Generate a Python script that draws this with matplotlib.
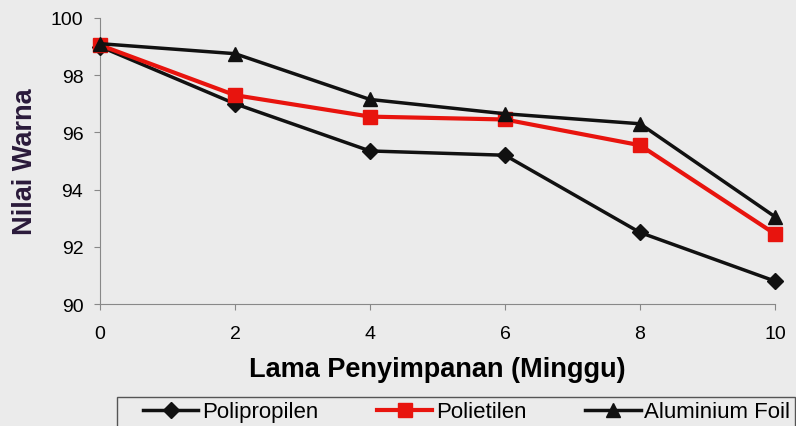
import matplotlib
matplotlib.use("Agg")
import matplotlib.pyplot as plt
from matplotlib.patches import Rectangle

plt.rcParams['font.family'] = ['Liberation Sans', 'DejaVu Sans']

# data
minggu = [0, 2, 4, 6, 8, 10]
polipropilen = [99.0, 97.0, 95.35, 95.2, 92.5, 90.8]
polietilen = [99.05, 97.3, 96.55, 96.45, 95.55, 92.45]
aluminium = [99.1, 98.75, 97.15, 96.65, 96.3, 93.05]
yticks = [90, 92, 94, 96, 98, 100]

bg = '#ebebeb'
fig = plt.figure(figsize=(7.96, 4.27), dpi=100, facecolor=bg)
ax = fig.add_axes([0.1256, 0.2857, 0.848, 0.67])
ax.set_facecolor(bg)

ax.plot(minggu, polipropilen, color='#111111', lw=2.5, marker='D', ms=8,
        label='Polipropilen', zorder=3)
ax.plot(minggu, polietilen, color='#e8140e', lw=3, marker='s', ms=10,
        label='Polietilen', zorder=3)
ax.plot(minggu, aluminium, color='#111111', lw=2.5, marker='^', ms=10,
        label='Aluminium Foil', zorder=4)

ax.set_xlim(0, 10)
ax.set_ylim(90, 100)
ax.set_xticks(minggu)
ax.set_yticks(yticks)
ax.tick_params(labelsize=14, length=4, color='#888888')
ax.tick_params(axis='x', pad=11)
ax.tick_params(axis='y', pad=8)
for s in ['top', 'right']:
    ax.spines[s].set_visible(False)
for s in ['left', 'bottom']:
    ax.spines[s].set_color('#888888')
for ln in ax.lines:
    ln.set_clip_on(False)

ax.set_xlabel('Lama Penyimpanan (Minggu)', fontsize=19.5, fontweight='bold', labelpad=10)
ax.set_ylabel('Nilai Warna', fontsize=19.5, fontweight='bold', color='#2a1a3a', labelpad=9)

# legend without its own frame; frame drawn separately (it runs off the bottom)
leg = fig.legend(loc='center', bbox_to_anchor=(0.586, 1 - 413 / 427), ncol=3,
                 fontsize=16, frameon=False, handlelength=2.5, handletextpad=0.15,
                 columnspacing=2.65, borderpad=0, borderaxespad=0)
fig.patches.append(Rectangle((117 / 796, -0.05), (795 - 117) / 796, 0.05 + 29 / 427,
                             transform=fig.transFigure, fill=False,
                             edgecolor='#555555', lw=1))

fig.savefig('out.png', dpi=100, facecolor=bg)
